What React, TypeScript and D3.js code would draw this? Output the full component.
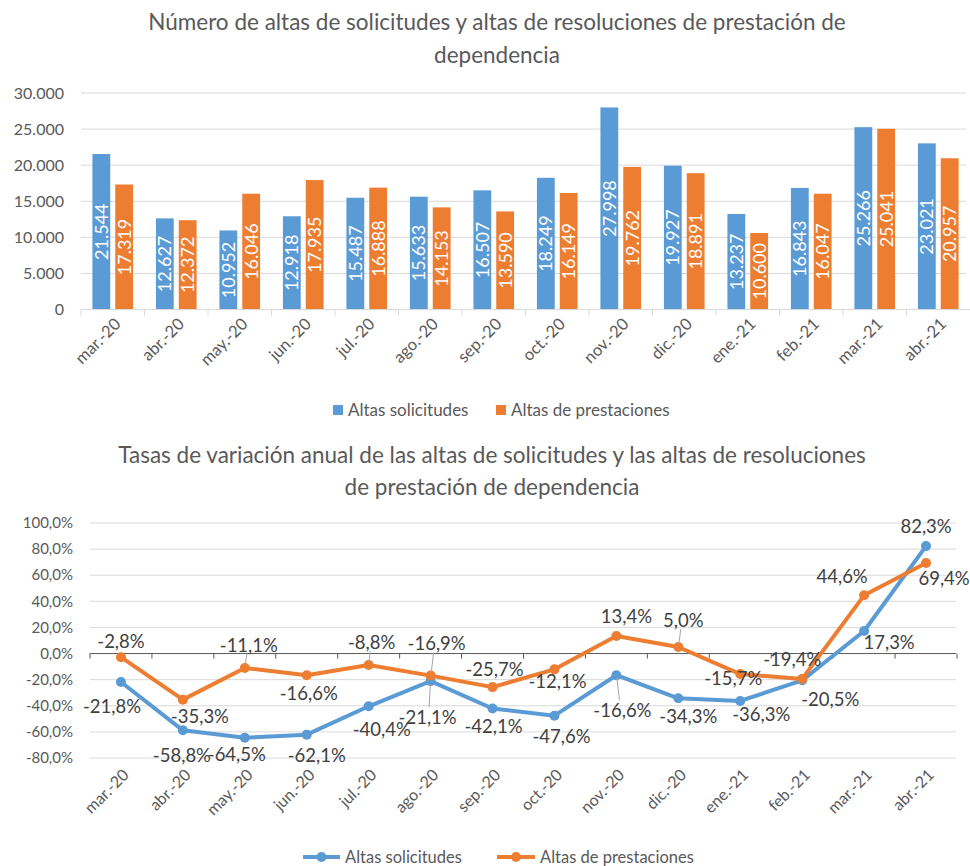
import React from "react";
import * as d3 from "d3";

const months = ["mar.-20", "abr.-20", "may.-20", "jun.-20", "jul.-20", "ago.-20", "sep.-20", "oct.-20", "nov.-20", "dic.-20", "ene.-21", "feb.-21", "mar.-21", "abr.-21"];
const altasSolicitudes = [21544, 12627, 10952, 12918, 15487, 15633, 16507, 18249, 27998, 19927, 13237, 16843, 25266, 23021];
const altasPrestaciones = [17319, 12372, 16046, 17935, 16888, 14153, 13590, 16149, 19762, 18891, 10600, 16047, 25041, 20957];
const tasaSolicitudes = [-21.8, -58.8, -64.5, -62.1, -40.4, -21.1, -42.1, -47.6, -16.6, -34.3, -36.3, -20.5, 17.3, 82.3];
const tasaPrestaciones = [-2.8, -35.3, -11.1, -16.6, -8.8, -16.9, -25.7, -12.1, 13.4, 5.0, -15.7, -19.4, 44.6, 69.4];
const barTicks = [0, 5000, 10000, 15000, 20000, 25000, 30000];
const rateTicks = [-80, -60, -40, -20, 0, 20, 40, 60, 80, 100];
const seriesNames = ["Altas solicitudes", "Altas de prestaciones"];

// label placement (dx, dy, leader line) copied from the excel chart
const solLabelPos: [number, number, boolean][] = [
  [-9, 25, false], [-1, 25, false], [-8, 17, false], [10, 21, false], [13, 23, false], [-3, 36, true], [1, 18, false],
  [7, 21, false], [6, 35, true], [10, 18, false], [21, 14, false], [28, 19, false], [25, 12, false], [0, -20, false],
];
const presLabelPos: [number, number, boolean][] = [
  [0, -16, false], [17, 17, false], [4, -23, true], [2, 18, false], [3, -23, true], [6, -32, true], [2, -18, false],
  [3, 12, false], [10, -20, false], [5, -27, true], [-7, 4, false], [-10, -19, false], [-22, -19, false], [18, 16, false],
];

const BLUE = "#5B9BD5";
const ORANGE = "#ED7D31";
const GREY = "#595959";
const GRID = "#D9D9D9";
const FONT = "Lato, 'Open Sans', sans-serif";

const es = d3.formatLocale({ decimal: ",", thousands: ".", grouping: [3], currency: ["", "€"], minus: "-" });
const fmtInt = es.format(",d");
const fmtPct = (v: number) => es.format(".1f")(v) + "%";

const W = 970;
const H = 866;

function BarChart() {
  const x = d3.scaleBand<string>().domain(months).range([81, 970]);
  const x1 = d3.scaleBand<string>().domain(seriesNames).range([0, x.bandwidth()]).paddingInner(0.22).paddingOuter(0.5);
  const y = d3.scaleLinear().domain([0, 30000]).range([309.5, 93]);
  const series = [altasSolicitudes, altasPrestaciones];
  const colors = [BLUE, ORANGE];

  return (
    <g>
      <text x={497} y={22} textAnchor="middle" dy="0.35em" fontSize={22.5} fill={GREY}>
        Número de altas de solicitudes y altas de resoluciones de prestación de
      </text>
      <text x={497} y={55} textAnchor="middle" dy="0.35em" fontSize={22.5} fill={GREY}>
        dependencia
      </text>
      {barTicks.map((t) => (
        <g key={t}>
          {t > 0 && <line x1={81} x2={966} y1={y(t)} y2={y(t)} stroke={GRID} strokeWidth={1} />}
          <text x={64} y={y(t)} dy="0.35em" textAnchor="end" fontSize={16} fill={GREY}>
            {fmtInt(t)}
          </text>
        </g>
      ))}
      {series.map((vals, si) =>
        vals.map((v, i) => {
          const bx = (x(months[i]) as number) + (x1(seriesNames[si]) as number);
          const bw = x1.bandwidth();
          const cy = (y(v) + y(0)) / 2;
          return (
            <g key={si + "-" + i}>
              <rect x={bx} y={y(v)} width={bw} height={y(0) - y(v)} fill={colors[si]} />
              <text
                transform={`translate(${bx + bw / 2},${cy}) rotate(-90)`}
                textAnchor="middle"
                dy="0.36em"
                fontSize={18}
                fill="#FFFFFF"
              >
                {fmtInt(v)}
              </text>
            </g>
          );
        })
      )}
      <line x1={81} x2={970} y1={y(0)} y2={y(0)} stroke={GRID} strokeWidth={1} />
      {months.map((m, i) => (
        <line key={m + i} x1={x(m) as number} x2={x(m) as number} y1={y(0)} y2={y(0) + 6} stroke={GRID} />
      ))}
      {months.map((m, i) => (
        <text
          key={"l" + i}
          transform={`translate(${(x(m) as number) + x.bandwidth() / 2 + 5},${321}) rotate(-45)`}
          textAnchor="end"
          dy="0.35em"
          fontSize={16.5}
          fill={GREY}
        >
          {m}
        </text>
      ))}
      <rect x={333} y={405} width={10} height={10} fill={BLUE} />
      <text x={348} y={410} dy="0.35em" fontSize={17} fill={GREY}>{seriesNames[0]}</text>
      <rect x={496} y={405} width={10} height={10} fill={ORANGE} />
      <text x={511} y={410} dy="0.35em" fontSize={17} fill={GREY}>{seriesNames[1]}</text>
    </g>
  );
}

function LineChart() {
  const x = d3.scaleBand<string>().domain(months).range([90, 957]);
  const y = d3.scaleLinear().domain([-80, 100]).range([758, 523]);
  const cx = (i: number) => (x(months[i]) as number) + x.bandwidth() / 2;
  const line = d3
    .line<number>()
    .x((_, i) => cx(i))
    .y((v) => y(v));
  const series = [
    { vals: tasaSolicitudes, color: BLUE, pos: solLabelPos },
    { vals: tasaPrestaciones, color: ORANGE, pos: presLabelPos },
  ];

  return (
    <g>
      <text x={492} y={455} textAnchor="middle" dy="0.35em" fontSize={22.5} fill={GREY}>
        Tasas de variación anual de las altas de solicitudes y las altas de resoluciones
      </text>
      <text x={492} y={487} textAnchor="middle" dy="0.35em" fontSize={22.5} fill={GREY}>
        de prestación de dependencia
      </text>
      {rateTicks.map((t) => (
        <g key={t}>
          {t !== 0 && <line x1={90} x2={956} y1={y(t)} y2={y(t)} stroke={GRID} strokeWidth={1} />}
          <text x={73} y={y(t)} dy="0.35em" textAnchor="end" fontSize={15} fill={GREY}>
            {fmtPct(t)}
          </text>
        </g>
      ))}
      <line x1={90} x2={956} y1={y(0)} y2={y(0)} stroke={GREY} strokeWidth={1} />
      {months.map((m, i) => (
        <line key={"t" + i} x1={x(m) as number} x2={x(m) as number} y1={y(0)} y2={y(0) + 5} stroke={GREY} />
      ))}
      <line x1={957} x2={957} y1={y(0)} y2={y(0) + 5} stroke={GREY} />
      {months.map((m, i) => (
        <text
          key={"l" + i}
          transform={`translate(${cx(i) + 5},${772}) rotate(-45)`}
          textAnchor="end"
          dy="0.35em"
          fontSize={16}
          fill={GREY}
        >
          {m}
        </text>
      ))}
      {series.map((s, si) => (
        <g key={si}>
          <path d={line(s.vals) || ""} fill="none" stroke={s.color} strokeWidth={4} strokeLinejoin="round" strokeLinecap="round" />
          {s.vals.map((v, i) => (
            <circle key={i} cx={cx(i)} cy={y(v)} r={5} fill={s.color} />
          ))}
        </g>
      ))}
      {series.map((s, si) =>
        s.vals.map((v, i) => {
          const [dx, dy, leader] = s.pos[i];
          const px = cx(i);
          const py = y(v);
          const lx = px + dx;
          const ly = py + dy;
          return (
            <g key={"d" + si + i}>
              {leader && (
                <line
                  x1={px + dx * 0.1}
                  y1={py + (dy < 0 ? -3 : 3)}
                  x2={px + dx * 0.5}
                  y2={ly + (dy < 0 ? 9 : -10)}
                  stroke="#A6A6A6"
                  strokeWidth={1}
                />
              )}
              <text x={lx} y={ly} dy="0.35em" textAnchor="middle" fontSize={18.5} fill="#404040">
                {fmtPct(v)}
              </text>
            </g>
          );
        })
      )}
      <line x1={303} x2={340} y1={857} y2={857} stroke={BLUE} strokeWidth={4} />
      <circle cx={321.5} cy={857} r={5} fill={BLUE} />
      <text x={345} y={857} dy="0.35em" fontSize={16.5} fill={GREY}>{seriesNames[0]}</text>
      <line x1={497} x2={535} y1={857} y2={857} stroke={ORANGE} strokeWidth={4} />
      <circle cx={516} cy={857} r={5} fill={ORANGE} />
      <text x={540} y={857} dy="0.35em" fontSize={16.5} fill={GREY}>{seriesNames[1]}</text>
    </g>
  );
}

export default function App() {
  return (
    <div style={{ position: "absolute", left: 0, top: 0 }}>
      <svg width={W} height={H} style={{ display: "block", fontFamily: FONT, background: "#fff" }}>
        <BarChart />
        <LineChart />
      </svg>
    </div>
  );
}
